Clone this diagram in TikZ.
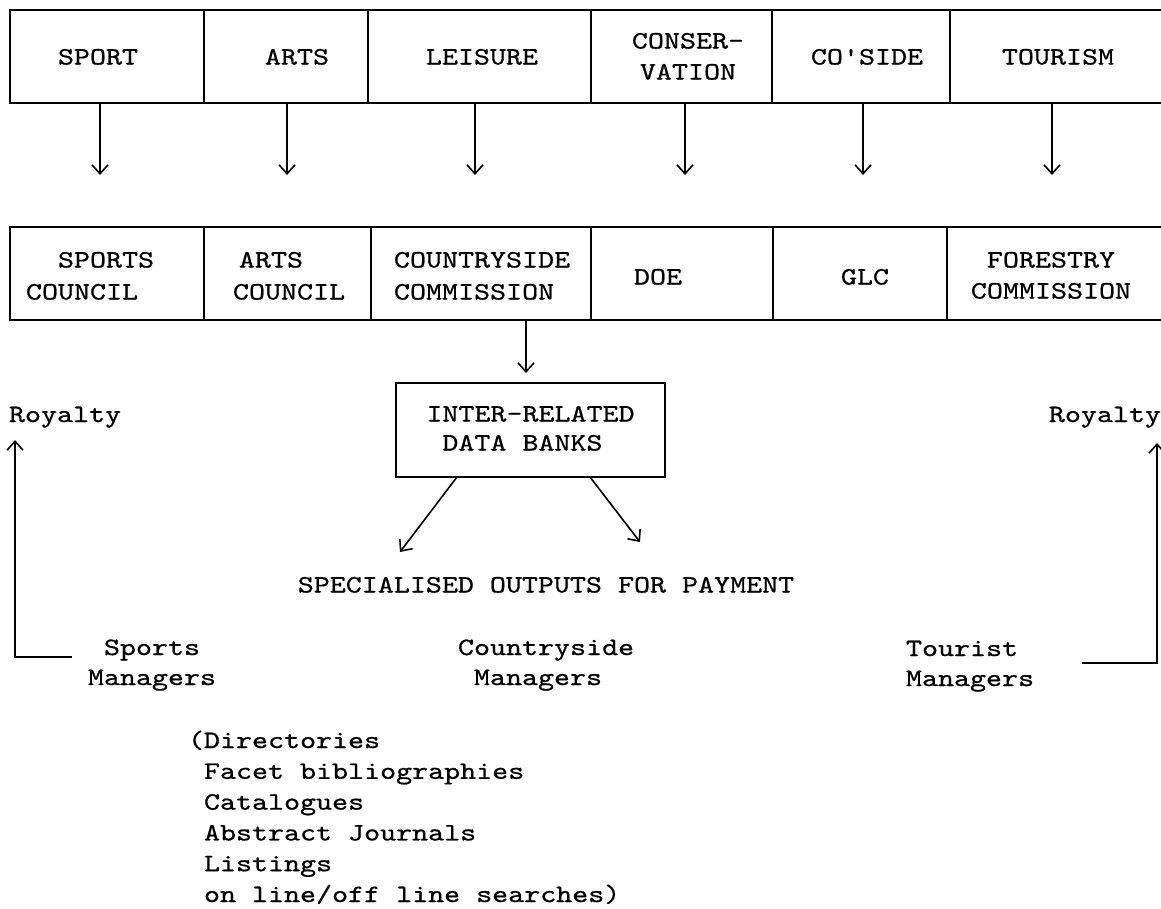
\documentclass[tikz,border=0pt]{standalone}
\usepackage{fontspec}
\setmonofont{lmmono10-regular.otf}[FakeStretch=1.22, FakeBold=0.7]
\usetikzlibrary{arrows.meta}
\newcommand\topstrut{\rule{0pt}{20pt}}
\tikzset{
  tt/.style={font=\ttfamily\fontsize{25}{#1}\selectfont, inner sep=0pt, outer sep=0pt},
  tt/.default=31,
  gridline/.style={line width=1.9pt},
  divider/.style={line width=1.5pt},
  arr/.style={line width=1.6pt, -{Straight Barb[length=9pt,width=16pt]}},
  bankbox/.style={draw, line width=1.7pt, minimum width=269pt, minimum height=94pt, inner sep=0pt},
}
\begin{document}
\begin{tikzpicture}[x=1pt,y=-1pt]
\useasboundingbox (0,0) rectangle (1161,908);
\fill[white] (0,0) rectangle (1161,908);

% ---------- top row ----------
\draw[gridline] (1161,10) -- (10,10) -- (10,103) -- (1161,103);
\foreach \x in {204,368,591,772,950} \draw[divider] (\x,10) -- (\x,103);

\node[tt, anchor=base] (sport)   at (98,64.5)   {SPORT};
\node[tt, anchor=base] (arts)    at (297,64.5)  {ARTS};
\node[tt, anchor=base] (leisure) at (482,64.5)  {LEISURE};
\node[tt=31, anchor=north, align=center] (cons) at (688,28.5) {\topstrut CONSER-\\VATION};
\node[tt, anchor=base] (coside)  at (867,64.5)  {CO'SIDE};
\node[tt, anchor=base] (tourism) at (1058,64.5) {TOURISM};

% arrows from top row
\foreach \i/\x in {1/100,2/287,3/475,4/685,5/863,6/1052}{
  \coordinate (ts\i) at (\x,103);
  \coordinate (te\i) at (\x,175);
}
\foreach \i in {1,...,6} \draw[arr] (ts\i) -- (te\i);

% ---------- second row ----------
\draw[gridline] (1161,227) -- (10,227) -- (10,320) -- (1161,320);
\foreach \x in {204,371,591,773,947} \draw[divider] (\x,227) -- (\x,320);

\node[tt=32, anchor=north west, align=left] (sc) at (26,247.5) {\topstrut\hspace*{32pt}SPORTS\\COUNCIL};
\node[tt=32, anchor=north west, align=left] (ac) at (233,247.5) {\topstrut\hspace*{6pt}ARTS\\COUNCIL};
\node[tt=32, anchor=north west, align=left] (cc) at (394,247.5) {\topstrut COUNTRYSIDE\\COMMISSION};
\node[tt, anchor=base] (doe) at (658,284.5) {DOE};
\node[tt, anchor=base] (glc) at (865,284.5) {GLC};
\node[tt=31, anchor=north, align=center] (fc) at (1051,247.5) {\topstrut FORESTRY\\COMMISSION};

% ---------- data banks ----------
\coordinate (cs) at (526,320);
\coordinate (ce) at (526,373);
\draw[arr] (cs) -- (ce);

\node[bankbox] (banks) at (530.5,430) {};
\node[tt=29, anchor=north, align=left] (bankstext) at (530.5,401.5)
  {\topstrut INTER-RELATED\\\hspace*{16pt}DATA BANKS};

\coordinate (o1s) at (457,477);
\coordinate (o1e) at (400,552);
\coordinate (o2s) at (590,477);
\coordinate (o2e) at (640,542);
\draw[arr] (o1s) -- (o1e);
\draw[arr] (o2s) -- (o2e);

\node[tt, anchor=base] (outputs) at (546,592.5) {SPECIALISED OUTPUTS FOR PAYMENT};

% ---------- royalty ----------
\node[tt, anchor=base west] (royl) at (9,422) {Royalty};
\node[tt, anchor=base east] (royr) at (1161,422) {Royalty};

\coordinate (lb) at (72,657);
\coordinate (lt) at (15,440);
\draw[arr] (lb) -| (lt);
\coordinate (rb) at (1082,663);
\coordinate (rt) at (1157,443);
\draw[arr] (rb) -| (rt);

% ---------- managers ----------
\node[tt=30, anchor=north, align=center] (sm) at (152,635) {\topstrut Sports\\Managers};
\node[tt=30, anchor=north west, align=left] (cm) at (458,635) {\topstrut Countryside\\\hspace*{16pt}Managers};
\node[tt=30, anchor=north west, align=left] (tm) at (906,636) {\topstrut Tourist\\Managers};

% ---------- list ----------
\node[tt=30.8, anchor=north west, align=left] (list) at (188,728) {\topstrut(Directories\\
\hphantom{(}Facet bibliographies\\
\hphantom{(}Catalogues\\
\hphantom{(}Abstract Journals\\
\hphantom{(}Listings\\
\hphantom{(}on line/off line searches)};
\end{tikzpicture}
\end{document}
